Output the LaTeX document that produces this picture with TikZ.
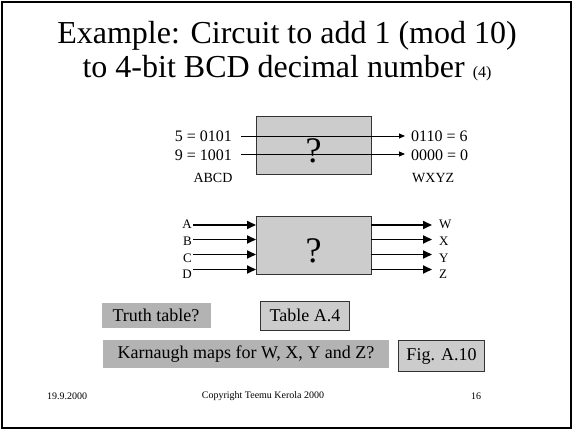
\documentclass[tikz,border=0pt]{standalone}
\usepackage{fontspec}
\setmainfont{Liberation Serif}
\usetikzlibrary{arrows.meta}
\definecolor{boxgray}{HTML}{CCCCCC}
\definecolor{darkgray2}{HTML}{B3B3B3}
\definecolor{edge}{HTML}{333333}
\tikzset{
  title/.style={font=\fontsize{32}{34}\selectfont, anchor=base, inner sep=0pt},
  qbox/.style={draw=edge, line width=0.8pt, fill=boxgray},
  qmark/.style={font=\fontsize{36}{38}\selectfont, inner sep=0pt},
  numtext/.style={font=\fontsize{16}{18}\selectfont, inner sep=0pt},
  lbltext/.style={font=\fontsize{14}{16}\selectfont, inner sep=0pt},
  pin/.style={font=\fontsize{13}{15}\selectfont, inner sep=0pt},
  thinarrow/.style={line width=0.8pt, -{Triangle[length=6pt,width=5pt]}},
  thickarrow/.style={line width=1.8pt, -{Triangle[length=9pt,width=8pt]}},
  qtag/.style={fill=darkgray2, font=\fontsize{18}{20}\selectfont, inner sep=0pt},
  atag/.style={fill=boxgray, draw=edge, line width=0.8pt, font=\fontsize{18}{20}\selectfont, inner sep=0pt},
  foot/.style={font=\fontsize{10}{12}\selectfont, inner sep=0pt}
}
\begin{document}
\begin{tikzpicture}[x=1pt,y=-1pt]
\useasboundingbox (0,0) rectangle (573,430);
\draw[line width=2pt] (2,2) rectangle (571,428);
% title
\node[title] (t1) at (287,44) {Example: Circuit to add 1 (mod 10)};
\node[title] (t2) at (287,78) {to 4-bit BCD decimal number {\fontsize{16}{18}\selectfont (4)}};
% top box
\node[qbox, minimum width=115pt, minimum height=58pt, inner sep=0pt] (box1) at (313.5,145) {};
\node[qmark] (q1) at (313.5,151) {?};
\node[numtext, anchor=east] (in1) at (232,136) {5 = 0101};
\node[numtext, anchor=east] (in2) at (232,155) {9 = 1001};
\node[lbltext] (abcd) at (213,178) {ABCD};
\node[numtext, anchor=west] (out1) at (411,136) {0110 = 6};
\node[numtext, anchor=west] (out2) at (411,155) {0000 = 0};
\node[lbltext, anchor=west] (wxyz) at (412,178) {WXYZ};
\coordinate (s1) at (241,136);
\coordinate (s2) at (241,154);
\coordinate (e1) at (405,136);
\coordinate (e2) at (405,154);
\draw[thinarrow] (s1) -- (e1);
\draw[thinarrow] (s2) -- (e2);
% bottom box
\node[qbox, minimum width=115pt, minimum height=58pt, inner sep=0pt] (box2) at (313.5,245) {};
\node[qmark] (q2) at (313.5,251) {?};
\foreach \n/\y/\ly/\inl/\outl in {a/225/224/A/W, b/239.5/241.5/B/X, c/254.5/258/C/Y, d/269.5/274/D/Z}{
  \node[pin, anchor=east] (l\n) at (192,\ly) {\inl};
  \node[pin, anchor=west] (r\n) at (439,\ly) {\outl};
  \coordinate (ia\n) at (193,\y);
  \coordinate (ib\n) at (256,\y);
  \coordinate (oa\n) at (371,\y);
  \coordinate (ob\n) at (432,\y);
  \draw[thickarrow] (ia\n) -- (ib\n);
  \draw[thickarrow] (oa\n) -- (ob\n);
}
% questions and answers
\node[qtag, minimum width=109pt, minimum height=25pt] (tt) at (156,315.5) {Truth table?};
\node[atag, minimum width=89pt, minimum height=29pt] (ta) at (305,315.5) {Table A.4};
\node[qtag, minimum width=286pt, minimum height=28pt] (km) at (246,354) {Karnaugh maps for W, X, Y and Z?};
\node[atag, minimum width=86pt, minimum height=31pt] (fa) at (441.5,356) {Fig. A.10};
% footer
\node[foot] (date) at (67,396) {19.9.2000};
\node[foot] (copy) at (263,396) {Copyright Teemu Kerola 2000};
\node[foot] (page) at (476,396) {16};
\end{tikzpicture}
\end{document}
